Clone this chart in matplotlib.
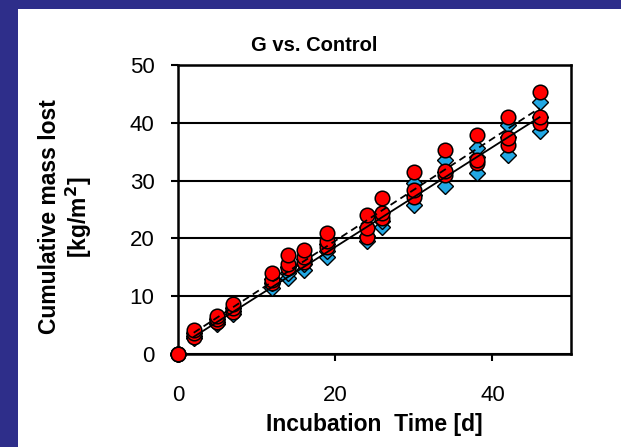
import numpy as np
import matplotlib
matplotlib.use('Agg')
import matplotlib.pyplot as plt
from matplotlib.patches import Rectangle

plt.rcParams['font.family'] = ['Liberation Sans', 'DejaVu Sans']

# incubation days
dias = [0, 2, 5, 7, 12, 14, 16, 19, 24, 26, 30, 34, 38, 42, 46]

# G replicates (blue diamonds)
g1 = [0, 2.8, 5.2, 7.0, 11.5, 13.2, 14.5, 16.8, 19.5, 22.0, 25.8, 29.0, 31.3, 34.5, 38.5]
g2 = [0, 3.2, 5.6, 7.5, 12.2, 14.0, 15.5, 17.8, 20.5, 23.0, 27.5, 31.5, 34.0, 37.5, 41.0]
g3 = [0, 3.6, 6.0, 8.0, 13.0, 15.0, 16.5, 19.0, 22.0, 24.5, 29.5, 33.6, 35.6, 39.6, 43.6]

# Control replicates (red circles)
c1 = [0, 3.0, 5.5, 7.3, 12.3, 14.9, 16.0, 18.5, 20.3, 23.5, 27.2, 31.0, 33.0, 36.2, 40.0]
c2 = [0, 3.6, 6.0, 8.0, 12.8, 15.5, 16.8, 19.5, 21.8, 24.4, 28.4, 31.7, 33.6, 37.4, 41.0]
c3 = [0, 4.2, 6.5, 8.6, 14.0, 17.1, 18.0, 21.0, 24.0, 27.0, 31.5, 35.3, 37.9, 41.0, 45.3]

azul = '#22A8E4'
rojo = '#FF0000'

fig = plt.figure(figsize=(6.21, 4.47), dpi=100)
fig.patch.set_facecolor('#2E2E8A')
fondo = Rectangle((18/621, 0), 1, 1 - 9/447, transform=fig.transFigure,
                  facecolor='white', edgecolor='none', zorder=-10)
fig.patches.append(fondo)

ax = fig.add_axes([178/621, 1 - 354/447, (571-178)/621, (354-65)/447])
ax.set_zorder(5)
ax.set_facecolor('white')

for g in [g1, g2, g3]:
    ax.plot(dias, g, linestyle='none', marker='D', markersize=8.5, markerfacecolor=azul,
            markeredgecolor='black', markeredgewidth=1, zorder=3, clip_on=False)
for c in [c1, c2, c3]:
    ax.plot(dias, c, linestyle='none', marker='o', markersize=10.5, markerfacecolor=rojo,
            markeredgecolor='black', markeredgewidth=1.1, zorder=4, clip_on=False)

# trendlines
x = np.array(dias * 3)
yG = np.array(g1 + g2 + g3)
yC = np.array(c1 + c2 + c3)
mG, bG = np.polyfit(x, yG, 1)
mC, bC = np.polyfit(x, yC, 1)
xl = np.array([dias[1], dias[-1]])
ax.plot(xl, mG * xl + bG, color='black', lw=1.3, zorder=5)
ax.plot(xl, mC * xl + bC, color='black', lw=1.3, ls=(0, (4, 2.5)), zorder=5)

ax.set_xlim(0, 50)
ax.set_ylim(0, 50)
ax.set_xticks([0, 20, 40])
ax.set_yticks([0, 10, 20, 30, 40, 50])
ax.yaxis.grid(True, color='black', lw=1.5)
ax.set_axisbelow(True)
for s in ax.spines.values():
    s.set_linewidth(1.8)
ax.tick_params(axis='y', direction='out', length=5, width=1.5, pad=12, labelsize=16)
ax.tick_params(axis='x', direction='out', length=5, width=1.5, pad=17, labelsize=16)

fig.text(374/621, 1 - 431/447, 'Incubation  Time [d]', ha='center', va='baseline',
         fontsize=16.5, fontweight='bold')
fig.text(66/621, 1 - 217/447, 'Cumulative mass lost\n[kg/m$^\\mathbf{2}$]', rotation=90,
         ha='center', va='center', fontsize=16.5, fontweight='bold', linespacing=1.1)
fig.text(314/621, 1 - 51/447, 'G vs. Control', ha='center', va='baseline',
         fontsize=14.5, fontweight='bold')

plt.savefig('out.png', dpi=100, facecolor=fig.get_facecolor())
